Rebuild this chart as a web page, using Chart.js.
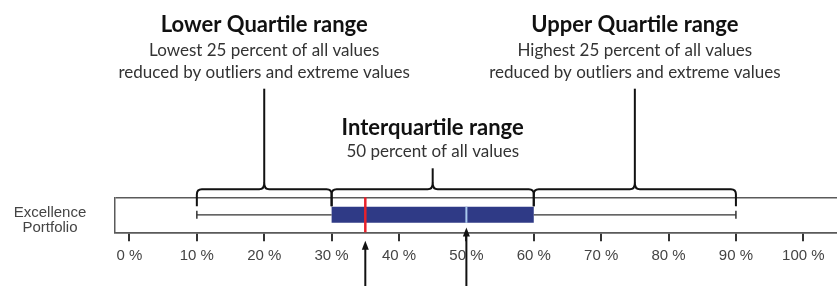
<!DOCTYPE html>
<html><head><meta charset="utf-8">
<script src="https://cdn.jsdelivr.net/npm/chart.js@4.4.1/dist/chart.umd.min.js"></script>
<style>html,body{margin:0;padding:0;background:#fff}#wrap{width:837px;height:286px}</style>
</head><body><div id="wrap"><canvas id="c" width="837" height="286"></canvas></div>
<script>
// ---- data ----
const categories = [['Excellence', 'Portfolio']];
const whiskerLow = [10];
const q1 = [30];
const median = [50];
const q3 = [60];
const whiskerHigh = [90];
const marker = [35];
const tickValues = [0, 10, 20, 30, 40, 50, 60, 70, 80, 90, 100];
const rangeTitles = ['Lower Quartile range', 'Interquartile range', 'Upper Quartile range'];
const rangeSubtitles = [
  ['Lowest 25 percent of all values', 'reduced by outliers and extreme values'],
  ['50 percent of all values'],
  ['Highest 25 percent of all values', 'reduced by outliers and extreme values']
];
const arrowValues = [marker[0], median[0]];

// ---- styles ----
const BOX_COLOR = '#2f3a86';
const MEDIAN_COLOR = '#a9c9ee';
const MARKER_COLOR = '#e8212b';
const FRAME_COLOR = '#5a5a5a';
const TITLE_FONT = 'bold 22px Lato, "Open Sans", sans-serif';
const SUB_FONT = '17px Lato, "Open Sans", sans-serif';
const textLayout = [
  { title: 32.3, subs: [55.7, 77.7] },
  { title: 135, subs: [157.3] },
  { title: 32.3, subs: [55.7, 77.7] }
];
const arrowTips = [240.7, 227.5];

function brace(ctx, x1, x2, yLine, yEnd, yTip, r) {
  const xm = (x1 + x2) / 2;
  ctx.beginPath();
  ctx.moveTo(x1, yEnd);
  ctx.lineTo(x1, yLine + r);
  ctx.quadraticCurveTo(x1, yLine, x1 + r, yLine);
  ctx.lineTo(xm - r, yLine);
  ctx.quadraticCurveTo(xm, yLine, xm, yTip);
  ctx.quadraticCurveTo(xm, yLine, xm + r, yLine);
  ctx.lineTo(x2 - r, yLine);
  ctx.quadraticCurveTo(x2, yLine, x2, yLine + r);
  ctx.lineTo(x2, yEnd);
  ctx.stroke();
}

const boxPlugin = {
  id: 'boxExtras',
  afterDatasetsDraw(chart) {
    const ctx = chart.ctx;
    const xs = chart.scales.x, ys = chart.scales.y;
    const area = chart.chartArea;
    const bar = chart.getDatasetMeta(0).data[0];
    const yc = ys.getPixelForValue(0);
    const top = bar.y - bar.height / 2, bot = bar.y + bar.height / 2;
    ctx.save();
    ctx.strokeStyle = '#333';
    ctx.lineWidth = 1.2;
    ctx.beginPath();
    ctx.moveTo(xs.getPixelForValue(whiskerLow[0]), yc);
    ctx.lineTo(xs.getPixelForValue(q1[0]), yc);
    ctx.moveTo(xs.getPixelForValue(q3[0]), yc);
    ctx.lineTo(xs.getPixelForValue(whiskerHigh[0]), yc);
    ctx.stroke();
    ctx.lineWidth = 1.5;
    ctx.beginPath();
    [whiskerLow[0], whiskerHigh[0]].forEach(v => {
      const x = xs.getPixelForValue(v);
      ctx.moveTo(x, yc - 4); ctx.lineTo(x, yc + 4);
    });
    ctx.stroke();
    ctx.strokeStyle = MEDIAN_COLOR;
    ctx.lineWidth = 2;
    ctx.beginPath();
    const xm = xs.getPixelForValue(median[0]);
    ctx.moveTo(xm, top); ctx.lineTo(xm, bot);
    ctx.stroke();
    ctx.strokeStyle = MARKER_COLOR;
    ctx.lineWidth = 2.5;
    ctx.beginPath();
    const xr = xs.getPixelForValue(marker[0]);
    ctx.moveTo(xr, area.top); ctx.lineTo(xr, area.bottom);
    ctx.stroke();
    ctx.restore();
  },
  afterDraw(chart) {
    const ctx = chart.ctx;
    const xs = chart.scales.x;
    const area = chart.chartArea;
    const ranges = [[whiskerLow[0], q1[0]], [q1[0], q3[0]], [q3[0], whiskerHigh[0]]];
    const yLine = area.top - 8, yEnd = area.top + 9, yTip = area.top - 14;
    ctx.save();
    ctx.strokeStyle = '#111';
    ctx.lineWidth = 2;
    ctx.lineJoin = 'round';
    ranges.forEach((r, i) => {
      const x1 = xs.getPixelForValue(r[0]), x2 = xs.getPixelForValue(r[1]);
      brace(ctx, x1, x2, yLine, yEnd, yTip, 5);
      const xc = (x1 + x2) / 2;
      const L = textLayout[i];
      const lastBase = L.subs[L.subs.length - 1];
      ctx.beginPath();
      ctx.moveTo(xc, lastBase + 11);
      ctx.lineTo(xc, yTip);
      ctx.stroke();
      ctx.textAlign = 'center';
      ctx.textBaseline = 'alphabetic';
      ctx.fillStyle = '#111';
      ctx.font = TITLE_FONT;
      ctx.fillText(rangeTitles[i], xc, L.title);
      ctx.fillStyle = '#333';
      ctx.font = SUB_FONT;
      rangeSubtitles[i].forEach((s, j) => ctx.fillText(s, xc, L.subs[j]));
    });
    ctx.fillStyle = '#111';
    ctx.lineWidth = 2;
    arrowValues.forEach((v, i) => {
      const x = xs.getPixelForValue(v);
      const tip = arrowTips[i];
      ctx.beginPath();
      ctx.moveTo(x, chart.height);
      ctx.lineTo(x, tip + 6);
      ctx.stroke();
      ctx.beginPath();
      ctx.moveTo(x, tip);
      ctx.lineTo(x - 3.5, tip + 9);
      ctx.lineTo(x + 3.5, tip + 9);
      ctx.closePath();
      ctx.fill();
    });
    ctx.restore();
  }
};

new Chart(document.getElementById('c'), {
  type: 'bar',
  data: {
    labels: categories,
    datasets: [{
      data: [[q1[0], q3[0]]],
      backgroundColor: BOX_COLOR,
      borderWidth: 0,
      barPercentage: 0.46,
      categoryPercentage: 1
    }]
  },
  options: {
    indexAxis: 'y',
    responsive: false,
    animation: false,
    devicePixelRatio: 1,
    layout: { padding: { left: 0, right: 0, top: 197.3, bottom: 18.7 } },
    plugins: { legend: { display: false }, tooltip: { enabled: false } },
    scales: {
      x: {
        type: 'linear',
        min: -2.25,
        max: 105,
        afterBuildTicks: s => { s.ticks = tickValues.map(v => ({ value: v })); },
        grid: { display: true, drawOnChartArea: false, drawTicks: true, tickLength: 9, color: '#333', lineWidth: 2 },
        border: { display: true, color: FRAME_COLOR, width: 1.5 },
        ticks: {
          padding: 6,
          color: '#444',
          font: { family: '"Liberation Sans", Arial, sans-serif', size: 15 },
          callback: v => v + ' %',
          autoSkip: false,
          maxRotation: 0
        }
      },
      y: {
        type: 'category',
        afterFit: s => { s.width = 114.3; },
        grid: { display: true, drawOnChartArea: true, drawTicks: false, color: FRAME_COLOR, lineWidth: 1.5 },
        border: { display: true, color: FRAME_COLOR, width: 1.5 },
        ticks: {
          padding: 28,
          crossAlign: 'center',
          labelOffset: 5.5,
          color: '#444',
          font: { family: '"Liberation Sans", Arial, sans-serif', size: 15, lineHeight: 1.0 }
        }
      }
    }
  },
  plugins: [boxPlugin]
});
</script>
</body></html>
